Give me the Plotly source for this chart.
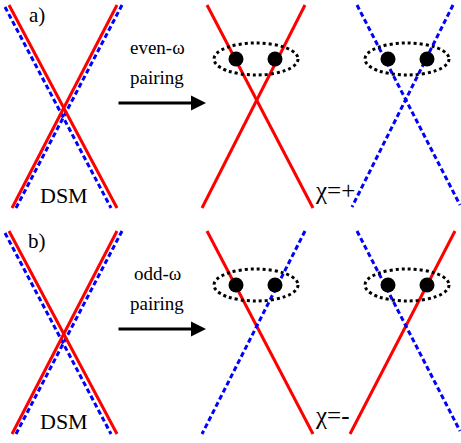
import plotly.graph_objects as go

W, H = 461, 443
PANEL_DY = [0, 226]
PANEL_LABELS = ["a)", "b)"]
PAIRING_LABELS = ["even-ω", "odd-ω"]
CHI_LABELS = ["χ=+", "χ=-"]

# Dirac cone line segments (x0, y0, x1, y1) in panel a frame
DSM_RED = [(9, 5, 117, 208), (117, 5, 12, 208)]
DSM_BLUE = [(5, 7, 111, 208), (122, 5, 16, 208)]
# Panel a: both branches of left cone red, right cone blue
A_RED = [(207, 5, 313, 208), (305, 5, 202, 208)]
A_BLUE = [(357, 5, 460, 205), (453, 5, 352, 207)]
# Panel b: mixed
B_RED = [(207, 5, 313, 208), (455, 5, 350, 208)]
B_BLUE = [(305, 5, 202, 208), (357, 5, 460, 205)]

ELLIPSE_CX = [256, 407]
ELLIPSE_CY = 59
ELLIPSE_RX, ELLIPSE_RY = 42, 16
DOT_X = [236, 275, 388, 427]
DOT_Y = 59

SERIF = "Liberation Serif"
RED = "#ff0000"
BLUE = "#0000ff"

fig = go.Figure()

def add_seg(seg, dy, color, dash):
    x0, y0, x1, y1 = seg
    fig.add_trace(go.Scatter(x=[x0, x1], y=[y0 + dy, y1 + dy], mode="lines",
                             line=dict(color=color, width=3, dash=dash),
                             hoverinfo="skip", showlegend=False))

for p, dy in enumerate(PANEL_DY):
    for s in DSM_BLUE:
        add_seg(s, dy, BLUE, "5px,3px")
    for s in DSM_RED:
        add_seg(s, dy, RED, "solid")
    reds = A_RED if p == 0 else B_RED
    blues = A_BLUE if p == 0 else B_BLUE
    for s in reds:
        add_seg(s, dy, RED, "solid")
    for s in blues:
        add_seg(s, dy, BLUE, "5px,3px")
    for cx in ELLIPSE_CX:
        fig.add_shape(type="circle", xref="x", yref="y",
                      x0=cx - ELLIPSE_RX, x1=cx + ELLIPSE_RX,
                      y0=ELLIPSE_CY - ELLIPSE_RY + dy, y1=ELLIPSE_CY + ELLIPSE_RY + dy,
                      line=dict(color="black", width=3, dash="dot"))
    fig.add_trace(go.Scatter(x=DOT_X, y=[DOT_Y + dy] * len(DOT_X), mode="markers",
                             marker=dict(color="black", size=15),
                             hoverinfo="skip", showlegend=False))
    # arrow
    fig.add_annotation(x=206, y=103 + dy, ax=117, ay=103 + dy,
                       xref="x", yref="y", axref="x", ayref="y",
                       showarrow=True, arrowhead=2, arrowsize=1.0, arrowwidth=3,
                       arrowcolor="black", text="")
    fig.add_annotation(x=37, y=15 + dy, text=PANEL_LABELS[p], showarrow=False,
                       font=dict(family=SERIF, size=21, color="black"))
    fig.add_annotation(x=64, y=195 + dy, text="DSM", showarrow=False,
                       font=dict(family=SERIF, size=22, color="black"))
    fig.add_annotation(x=157, y=47 + dy, text=PAIRING_LABELS[p], showarrow=False,
                       font=dict(family=SERIF, size=19, color="black"))
    fig.add_annotation(x=157, y=77 + dy, text="pairing", showarrow=False,
                       font=dict(family=SERIF, size=19, color="black"))
    fig.add_annotation(x=313, y=190 + dy - (1 if p else 0), text=CHI_LABELS[p], showarrow=False,
                       xanchor="left",
                       font=dict(family=SERIF, size=25, color="black"))

fig.update_layout(width=W, height=H, margin=dict(l=0, r=0, t=0, b=0),
                  paper_bgcolor="white", plot_bgcolor="white",
                  xaxis=dict(range=[0, W], visible=False, fixedrange=True),
                  yaxis=dict(range=[H, 0], visible=False, fixedrange=True))

fig.write_html("out.html", config={"displayModeBar": False},
               post_script="document.body.style.margin='0';")
